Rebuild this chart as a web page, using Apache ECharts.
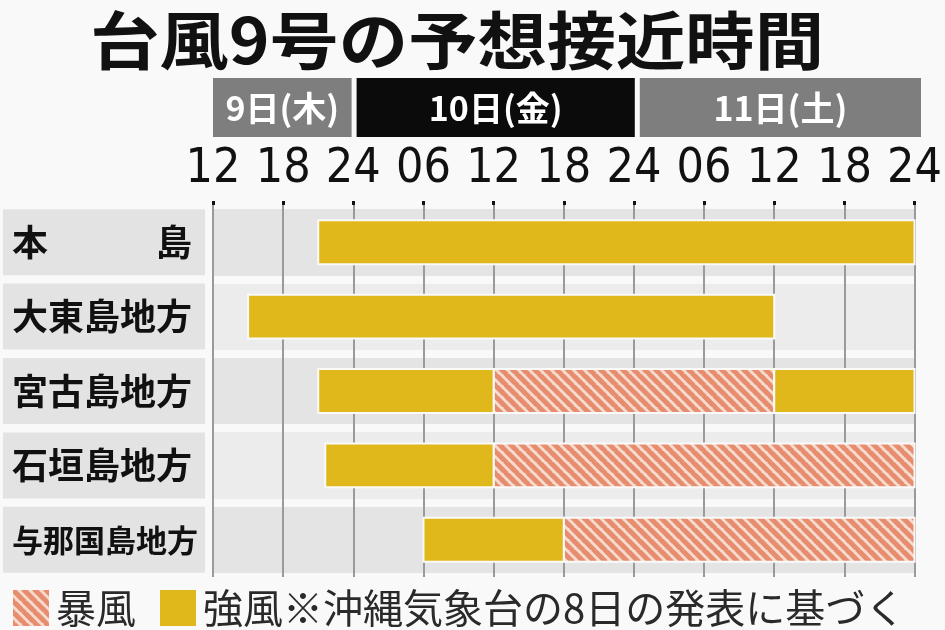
<!DOCTYPE html>
<html>
<head>
<meta charset="utf-8">
<script src="https://cdn.jsdelivr.net/npm/echarts@6/dist/echarts.min.js"></script>
<style>
  html, body { margin: 0; padding: 0; background: #f9f9f9; }
  #chart { width: 945px; height: 630px; }
</style>
</head>
<body>
<div id="chart"></div>
<script>
// hours counted from 9日 12時
const regions = ['本島', '大東島地方', '宮古島地方', '石垣島地方', '与那国島地方']
const tickLabels = ['12', '18', '24', '06', '12', '18', '24', '06', '12', '18', '24']
const dayLabels = ['9日(木)', '10日(金)', '11日(土)']
const dayRanges = [[0, 12], [12, 36], [36, 60]]
// [region index, start hour, end hour]
const strongWind = [[0, 9, 60], [1, 3, 48], [2, 9, 24], [2, 48, 60], [3, 9.6, 24], [4, 18, 30]]
const stormWind = [[2, 24, 48], [3, 24, 60], [4, 30, 60]]
const note = '※沖縄気象台の8日の発表に基づく'

const JP = '"Noto Sans CJK JP", sans-serif'
const NUM = '"DejaVu Sans Condensed", "Liberation Sans Narrow", "Roboto", sans-serif'
const YELLOW = '#e0b81b'
const dayColors = ['#7e7e7e', '#0b0b0b', '#7e7e7e']

function makeHatch() {
	const s = 11
	const c = document.createElement('canvas')
	c.width = s
	c.height = s
	const g = c.getContext('2d')
	g.fillStyle = '#f5dccd'
	g.fillRect(0, 0, s, s)
	g.strokeStyle = '#e78c6e'
	g.lineWidth = 5
	for (let k = -1; k <= 1; k++) {
		g.beginPath()
		g.moveTo(k * s - 1, -1)
		g.lineTo(k * s + s + 1, s + 1)
		g.stroke()
	}
	return c
}
const hatch = { image: makeHatch(), repeat: 'repeat' }

function renderBar(fill) {
	return function (params, api) {
		const row = api.value(0)
		const a = api.coord([api.value(1), row])
		const b = api.coord([api.value(2), row])
		const h = api.size([0, 1])[1] * 0.59
		return {
			type: 'rect',
			shape: { x: a[0], y: a[1] - h / 2, width: b[0] - a[0], height: h },
			style: { fill: fill, stroke: '#fafafa', lineWidth: 2 }
		}
	}
}

function renderDay(params, api) {
	const i = params.dataIndex
	const a = api.coord([api.value(0), 0])
	const b = api.coord([api.value(1), 0])
	const h = api.size([0, 1])[1]
	const x0 = a[0] + (i > 0 ? 2 : 0)
	const x1 = b[0] - (i < 2 ? 3 : 0)
	return {
		type: 'group',
		children: [
			{ type: 'rect', shape: { x: x0, y: a[1] - h / 2, width: x1 - x0, height: h }, style: { fill: dayColors[i] } },
			{
				type: 'text',
				style: {
					x: (x0 + x1) / 2, y: a[1] + 1, text: dayLabels[i], fill: '#fff',
					font: 'bold 34px ' + JP, align: 'center', verticalAlign: 'middle'
				}
			}
		]
	}
}

const chart = echarts.init(document.getElementById('chart'))
chart.setOption({
	backgroundColor: '#f9f9f9',
	animation: false,
	graphic: [{
		type: 'text', x: 457, y: 40, scaleX: 1.1,
		style: {
			text: '台風9号の予想接近時間', fill: '#111', font: 'bold 63px ' + JP,
			align: 'center', verticalAlign: 'middle'
		}
	}],
	legend: {
		left: 8, top: 583,
		itemWidth: 36, itemHeight: 36, itemGap: 24,
		icon: 'rect',
		data: ['暴風', '強風'],
		formatter: name => name === '強風' ? name + note : name,
		textStyle: { fontSize: 40, color: '#2a2a2a', fontFamily: JP, padding: [0, 0, 0, 2] }
	},
	grid: [
		{ left: 213, right: 24, top: 205, height: 372 },
		{ left: 213, right: 24, top: 78, height: 59 }
	],
	xAxis: [{
		type: 'value', gridIndex: 0, position: 'top', min: 0, max: 60, interval: 6, z: 1,
		axisLine: { show: false },
		axisTick: { show: true, length: 4, lineStyle: { color: '#111', width: 3 } },
		axisLabel: {
			formatter: v => tickLabels[v / 6], fontSize: 48, color: '#111',
			fontFamily: NUM, margin: 11
		},
		splitLine: { show: true, lineStyle: { color: '#9a9a9a', width: 2 } }
	}, {
		type: 'value', gridIndex: 1, min: 0, max: 60, show: false
	}],
	yAxis: [{
		type: 'category', gridIndex: 0, data: regions, inverse: true, z: 0,
		axisLine: { show: false },
		axisTick: { show: false },
		axisLabel: {
			formatter: v => v.length === 2 ? v[0] + '　　　' + v[1] : (v.length > 5 ? '{n|' + v + '}' : v),
			align: 'left', margin: 210,
			width: 193, height: 66, lineHeight: 66, padding: [0, 0, 0, 9],
			backgroundColor: '#e3e3e3',
			fontSize: 36, fontWeight: 'bold', color: '#111', fontFamily: JP,
			rich: { n: { fontSize: 31, fontWeight: 'bold', color: '#111', fontFamily: JP } }
		},
		splitArea: { show: true, areaStyle: { color: ['#e4e4e4', '#ececec'] } },
		splitLine: { show: true, lineStyle: { color: '#f9f9f9', width: 8 } }
	}, {
		type: 'category', gridIndex: 1, data: ['day'], show: false
	}],
	series: [{
		name: '暴風', type: 'custom', xAxisIndex: 0, yAxisIndex: 0,
		itemStyle: { color: hatch },
		encode: { x: [1, 2], y: 0 },
		renderItem: renderBar(hatch),
		data: stormWind
	}, {
		name: '強風', type: 'custom', xAxisIndex: 0, yAxisIndex: 0,
		itemStyle: { color: YELLOW },
		encode: { x: [1, 2], y: 0 },
		renderItem: renderBar(YELLOW),
		data: strongWind
	}, {
		type: 'custom', xAxisIndex: 1, yAxisIndex: 1,
		encode: { x: [0, 1] },
		renderItem: renderDay,
		data: dayRanges
	}]
})
</script>
</body>
</html>
